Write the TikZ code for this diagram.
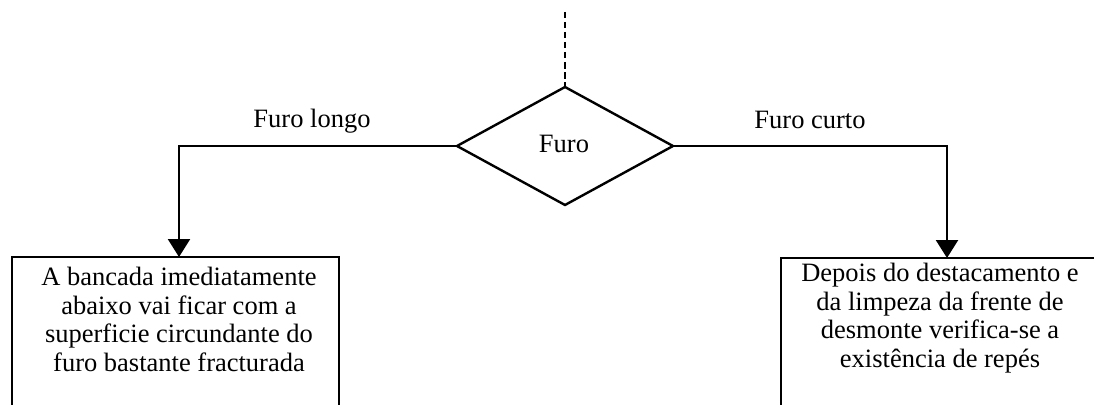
\documentclass[tikz,border=0pt]{standalone}
\usepackage{fontspec}
\setmainfont{Liberation Serif}
\usetikzlibrary{shapes.geometric,arrows.meta}
\begin{document}
\begin{tikzpicture}[x=1pt,y=-1pt,
  every node/.style={font=\fontsize{26.5}{28.5}\selectfont},
  stroke/.style={line width=2.4pt},
  decision/.style={stroke,draw,diamond,aspect=1.83,inner sep=0pt,outer sep=0pt,
    minimum width=216pt,minimum height=118pt},
  outcome/.style={stroke,draw,rectangle,inner sep=0pt,outer sep=0pt,anchor=north west},
  boxtext/.style={align=center,inner sep=0pt,anchor=base},
  branch/.style={inner sep=0pt,anchor=base},
  flow/.style={stroke,-{Triangle[length=18pt,width=22pt]}},
  entry/.style={stroke,dash pattern=on 6.5pt off 3.5pt}]
  \useasboundingbox (0,0) rectangle (1094,404);
  \clip (0,0) rectangle (1094,404);

  % decision
  \node[decision] (furo) at (565,146) {};
  \node[inner sep=0pt,anchor=base] (furotxt) at (564,152) {Furo};
  \coordinate (top) at (565,12);
  \draw[entry] (top) -- (furo.north);

  % outcome boxes (open at the bottom of the page)
  \node[outcome,minimum width=327pt,minimum height=170pt] (lbox) at (12,257) {};
  \node[outcome,minimum width=330pt,minimum height=170pt] (rbox) at (781,258) {};

  % box texts, placed by the baseline of their last line
  \node[boxtext] (ltxt) at (179,371) {A bancada imediatamente\\abaixo vai ficar com a\\superficie circundante do\\furo bastante fracturada};
  \node[boxtext] (rtxt) at (940,367) {Depois do destacamento e\\da limpeza da frente de\\desmonte verifica-se a\\existência de repés};

  % branch labels
  \node[branch] (llab) at (312,127) {Furo longo};
  \node[branch] (rlab) at (810,128) {Furo curto};

  % branches
  \draw[flow] (furo.west) -| (lbox.north west -| 179,0);
  \draw[flow] (furo.east) -| (rbox.north west -| 947,0);
\end{tikzpicture}
\end{document}
